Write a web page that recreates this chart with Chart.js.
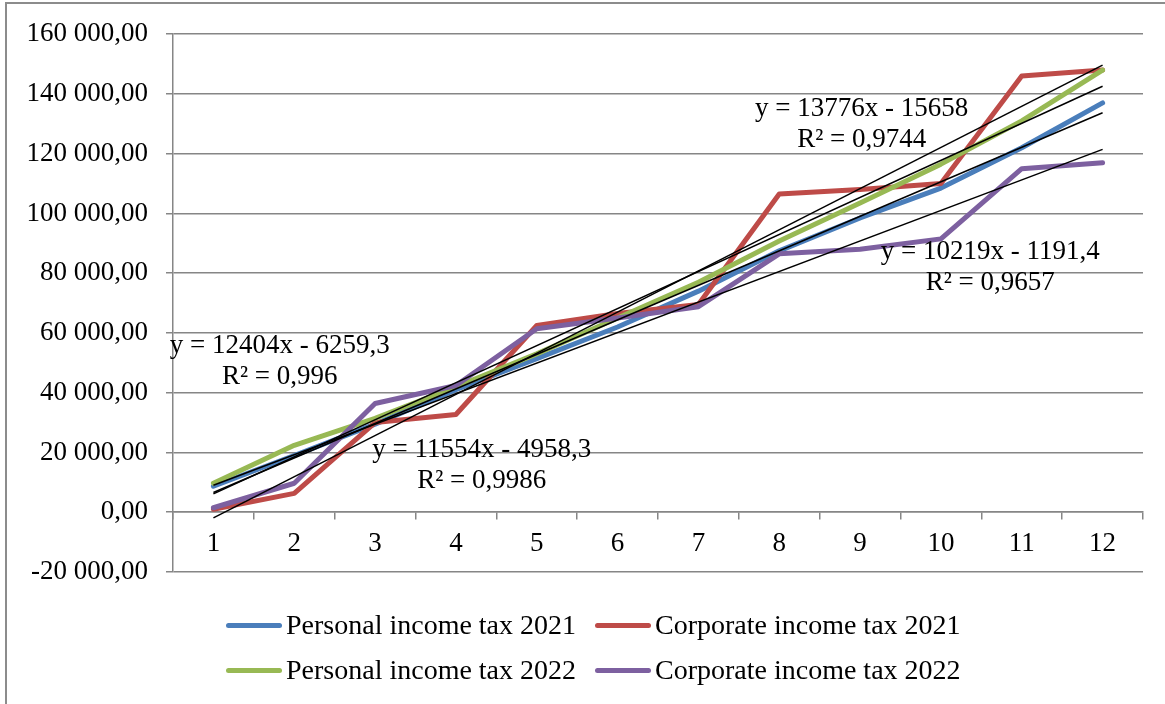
<!DOCTYPE html>
<html>
<head>
<meta charset="utf-8">
<script src="https://cdn.jsdelivr.net/npm/chart.js@4.4.1/dist/chart.umd.min.js"></script>
<style>
  html, body { margin: 0; padding: 0; background: #fff; }
  #wrap { position: relative; width: 1165px; height: 704px; overflow: hidden; font-family: "Liberation Serif", "Times New Roman", serif; }
  #frame { position: absolute; left: 5px; top: 2px; width: 1300px; height: 900px; border-left: 2px solid #8c8c8c; border-top: 2px solid #8c8c8c; }
  #chart { position: absolute; left: 0; top: 0; }
  .item { position: absolute; display: flex; align-items: center; font-size: 28px; line-height: 30px; color: #000; white-space: nowrap; }
  .swatch { width: 56px; height: 5px; border-radius: 3px; margin-right: 4px; }
</style>
</head>
<body>
<div id="wrap">
  <div id="frame"></div>
  <canvas id="chart" width="1165" height="704"></canvas>
  <div id="legend"></div>
</div>
<script>
// months 1..12
const months = ['1', '2', '3', '4', '5', '6', '7', '8', '9', '10', '11', '12'];

const pit2021 = [8700, 19000, 29500, 41000, 51400, 62000, 74000, 87500, 98500, 108500, 122000, 137000];
const cit2021 = [1000, 6300, 30000, 32700, 62500, 66500, 69500, 106500, 108000, 110000, 146000, 148000];
const pit2022 = [9700, 22400, 31400, 42000, 53000, 65000, 77000, 90800, 103500, 116500, 131000, 148000];
const cit2022 = [1500, 9700, 36400, 42400, 61400, 65000, 68800, 86500, 88000, 91500, 115000, 117000];

const seriesNames = ['Personal income tax 2021', 'Corporate income tax 2021', 'Personal income tax 2022', 'Corporate income tax 2022'];
const seriesData = [pit2021, cit2021, pit2022, cit2022];
const seriesColors = ['#4A7EBB', '#BE4B48', '#98B954', '#7D60A0'];

// linear trendlines as printed on the chart
const trendSlopes = [11554, 13776, 12404, 10219];
const trendIntercepts = [-4958.3, -15658, -6259.3, -1191.4];
const trendR2 = ['0,9986', '0,9744', '0,996', '0,9657'];

const yTicks = { min: -20000, max: 160000, step: 20000 };

const fontMain = { family: 'Liberation Serif', size: 27 };
const gridGrey = '#868686';

function fmtTick(v) {
  const s = Math.abs(v).toString().replace(/\B(?=(\d{3})+(?!\d))/g, ' ');
  return (v < 0 ? '-' : '') + s + ',00';
}

function eqText(i) {
  const b = trendIntercepts[i];
  return 'y = ' + trendSlopes[i] + 'x ' + (b < 0 ? '- ' : '+ ') + Math.abs(b).toString().replace('.', ',');
}

// where each equation block sits (category index, value)
const eqPlace = [
  { x: 3.32, y: 16000 },
  { x: 8.02, y: 129900 },
  { x: 0.82, y: 50750 },
  { x: 9.61, y: 82100 }
];

const eqLabels = {
  id: 'eqLabels',
  afterDatasetsDraw(chart) {
    const ctx = chart.ctx;
    const xs = chart.scales.x, ys = chart.scales.y;
    ctx.save();
    ctx.font = '27px "Liberation Serif"';
    ctx.fillStyle = '#000';
    ctx.textAlign = 'center';
    ctx.textBaseline = 'middle';
    eqPlace.forEach((p, i) => {
      const px = xs.getPixelForValue(p.x);
      const py = ys.getPixelForValue(p.y);
      ctx.fillText(eqText(i), px, py - 15);
      ctx.fillText('R\u00B2 = ' + trendR2[i], px, py + 16);
    });
    ctx.restore();
  }
};

const datasets = [];
seriesData.forEach((d, i) => {
  datasets.push({
    label: seriesNames[i],
    data: d,
    borderColor: seriesColors[i],
    backgroundColor: seriesColors[i],
    borderWidth: 5,
    pointRadius: 0,
    tension: 0,
    borderJoinStyle: 'round',
    borderCapStyle: 'round',
    order: 4 - i
  });
});
trendSlopes.forEach((m, i) => {
  const d = months.map(() => null);
  d[0] = m * 1 + trendIntercepts[i];
  d[months.length - 1] = m * months.length + trendIntercepts[i];
  datasets.push({
    label: 'Linear (' + seriesNames[i] + ')',
    data: d,
    borderColor: '#000',
    borderWidth: 1.5,
    pointRadius: 0,
    spanGaps: true,
    order: 0
  });
});

new Chart(document.getElementById('chart'), {
  type: 'line',
  data: { labels: months, datasets: datasets },
  options: {
    responsive: false,
    animation: false,
    layout: { padding: { top: 33, right: 22, bottom: 132, left: 0 } },
    plugins: { legend: { display: false }, tooltip: { enabled: false } },
    scales: {
      x: {
        type: 'category',
        position: { y: 0 },
        offset: true,
        grid: { offset: true, drawOnChartArea: false, tickLength: 7, color: gridGrey, lineWidth: 1.5 },
        border: { color: gridGrey, width: 1.5 },
        ticks: { font: fontMain, color: '#000', padding: 8 }
      },
      y: {
        min: yTicks.min,
        max: yTicks.max,
        afterFit(scale) { scale.width = 173; },
        grid: { color: gridGrey, lineWidth: 1.5, tickLength: 7 },
        border: { color: gridGrey, width: 1.5 },
        ticks: { stepSize: yTicks.step, font: fontMain, color: '#000', padding: 18, callback: fmtTick }
      }
    }
  },
  plugins: [eqLabels]
});

// legend, two rows of two like the original
const legendCols = [226, 595];
const legendRows = [625, 670];
const legend = document.getElementById('legend');
seriesNames.forEach((name, i) => {
  const el = document.createElement('div');
  el.className = 'item';
  el.style.left = legendCols[i % 2] + 'px';
  el.style.top = (legendRows[Math.floor(i / 2)] - 15) + 'px';
  el.innerHTML = '<span class="swatch" style="background:' + seriesColors[i] + '"></span>';
  el.appendChild(document.createTextNode(name));
  legend.appendChild(el);
});
</script>
</body>
</html>
